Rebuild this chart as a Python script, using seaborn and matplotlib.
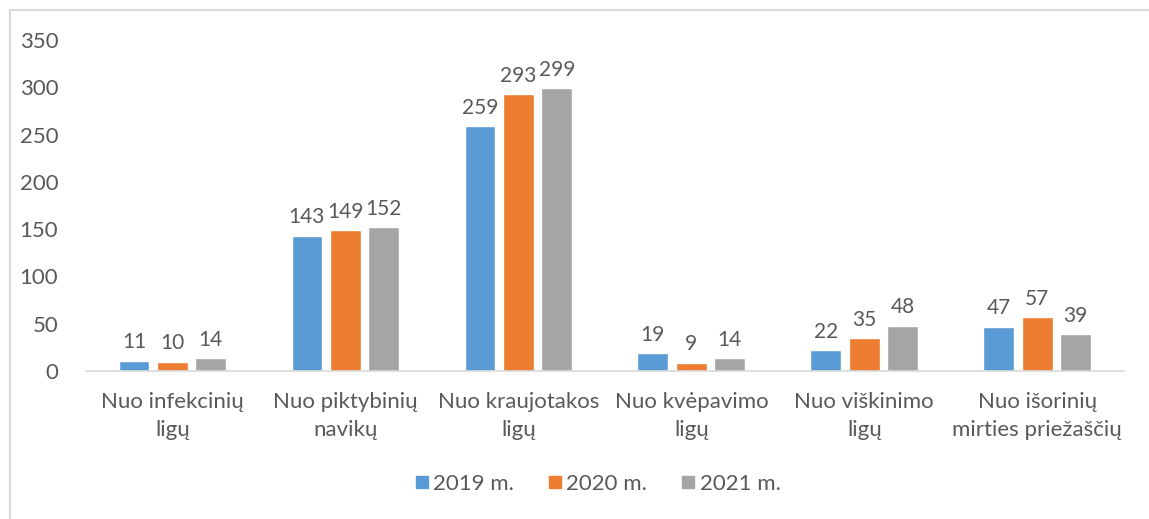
import pandas as pd
import numpy as np
import matplotlib
matplotlib.use("Agg")
import matplotlib.pyplot as plt
import seaborn as sns
from matplotlib.lines import Line2D

# Duomenys
kategorijos = ["Nuo infekcinių\nligų", "Nuo piktybinių\nnavikų", "Nuo kraujotakos\nligų",
               "Nuo kvėpavimo\nligų", "Nuo viškinimo\nligų", "Nuo išorinių\nmirties priežaščių"]
metai = ["2019 m.", "2020 m.", "2021 m."]
v2019 = [11, 143, 259, 19, 22, 47]
v2020 = [10, 149, 293, 9, 35, 57]
v2021 = [14, 152, 299, 14, 48, 39]
spalvos = ["#5B9BD5", "#ED7D31", "#A5A5A5"]

df = pd.DataFrame({
    "kategorija": kategorijos * 3,
    "metai": [metai[0]] * 6 + [metai[1]] * 6 + [metai[2]] * 6,
    "reiksme": v2019 + v2020 + v2021,
})

sns.set_style("white")
plt.rcParams["font.family"] = ["Lato", "DejaVu Sans"]
teksto_spalva = "#595959"

fig = plt.figure(figsize=(11.49, 5.19), dpi=100)
ax = fig.add_axes([0.0748, 0.285, 0.9032, 0.638])

sns.barplot(data=df, x="kategorija", y="reiksme", hue="metai", palette=spalvos,
            saturation=1, width=0.667, gap=0.2, ax=ax, legend=False)

for cont in ax.containers:
    ax.bar_label(cont, padding=6, fontsize=15, color=teksto_spalva)

ax.set_ylim(0, 350)
ax.set_xlim(-0.5, 5.5)
ax.set_yticks(range(0, 351, 50))
ax.set_xlabel("")
ax.set_ylabel("")
ax.tick_params(axis="both", length=0, labelsize=16, labelcolor=teksto_spalva)
ax.tick_params(axis="y", pad=20)
ax.tick_params(axis="x", pad=15)
for lbl in ax.get_xticklabels():
    lbl.set_linespacing(1.5)
for s in ["top", "right", "left"]:
    ax.spines[s].set_visible(False)
ax.spines["bottom"].set_color("#D9D9D9")
ax.spines["bottom"].set_linewidth(1.2)

rankenos = [Line2D([0], [0], marker="s", linestyle="", markersize=9,
                   markerfacecolor=c, markeredgecolor=c) for c in spalvos]
fig.legend(rankenos, metai, loc="center", bbox_to_anchor=(0.52, 0.067), ncol=3,
           frameon=False, fontsize=16, labelcolor=teksto_spalva,
           handlelength=0.7, handletextpad=0.15, columnspacing=1.5)

# rėmelis (tik viršus ir kairė matomi)
fig.add_artist(Line2D([10 / 1149, 1], [1 - 10 / 519, 1 - 10 / 519], color="#D9D9D9", lw=1.5))
fig.add_artist(Line2D([10 / 1149, 10 / 1149], [0, 1 - 10 / 519], color="#D9D9D9", lw=1.5))

fig.savefig("out.png", dpi=100)
